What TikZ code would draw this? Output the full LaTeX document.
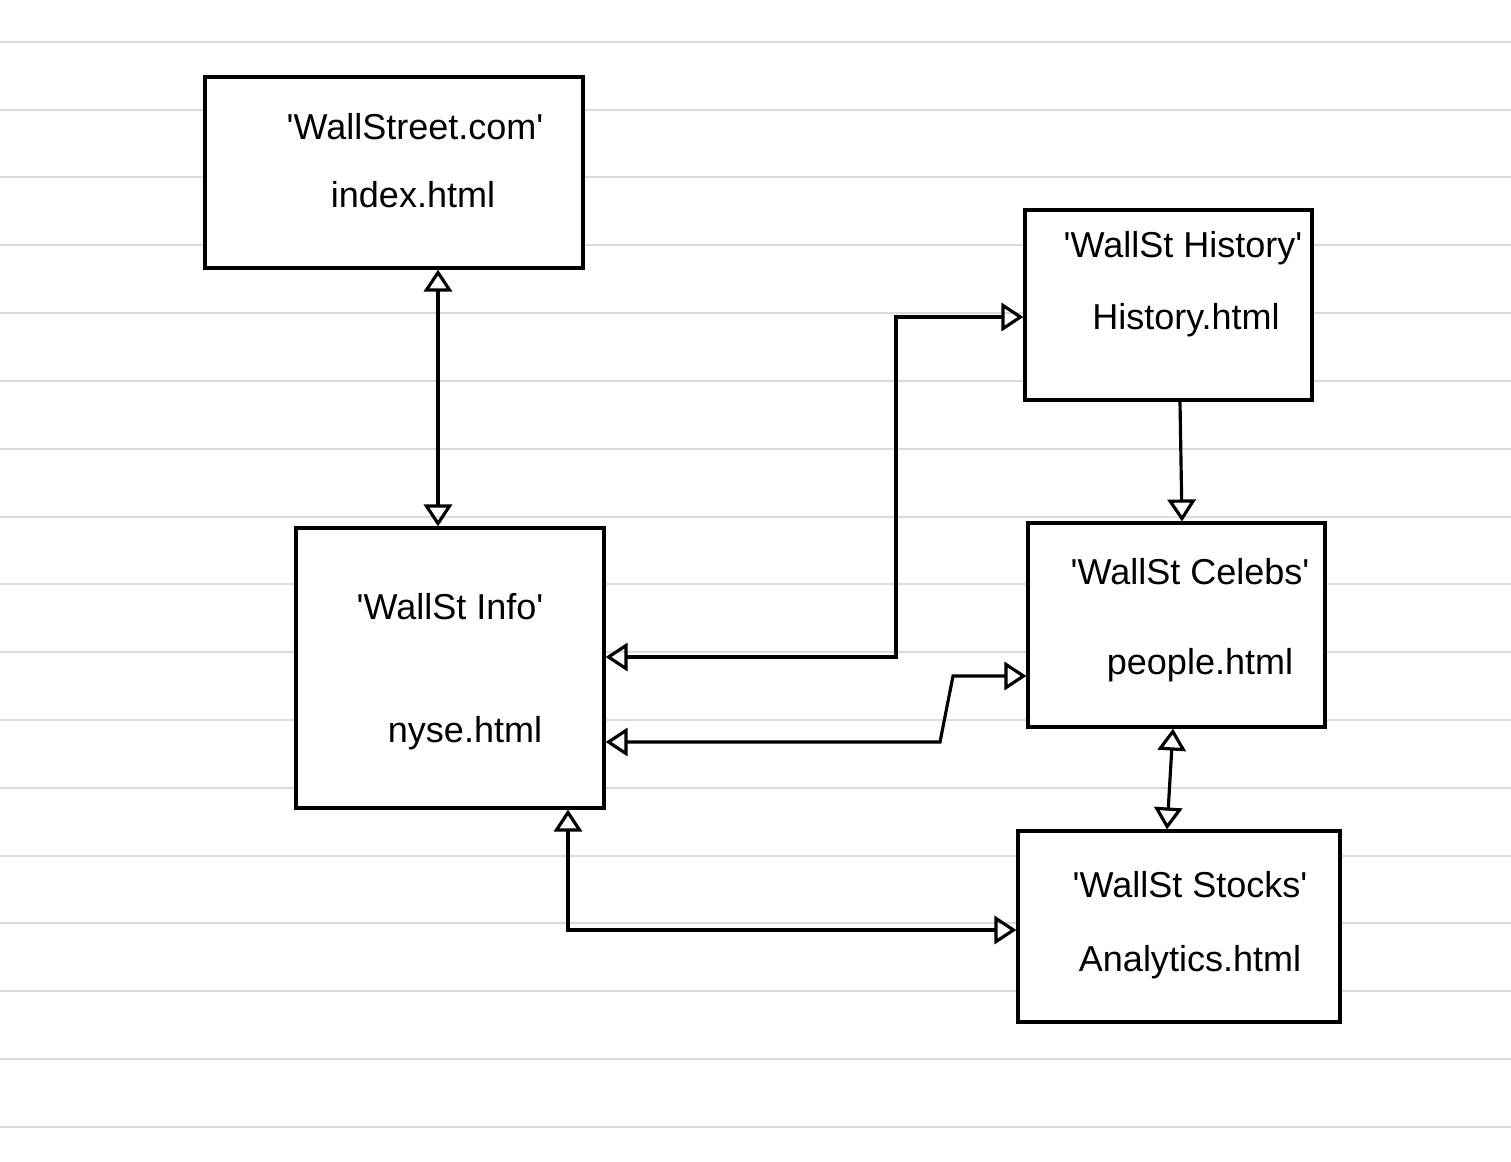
\documentclass[tikz,border=0pt]{standalone}
\usepackage{fontspec}
\setmainfont{Liberation Sans}
\usetikzlibrary{arrows.meta,fit}
\tikzset{otri/.tip={Triangle[open,length=12.5pt,width=16pt,line width=1.8pt]}}
\newcommand{\q}{\textquotesingle}
\begin{document}
\begin{tikzpicture}[x=0.02cm,y=-0.02cm,
  box/.style={draw=black,line width=1.8pt,inner sep=0pt},
  lbl/.style={font=\fontsize{20.5}{24}\selectfont,inner sep=0pt},
  rule/.style={draw=black!14,line width=1.2pt},
  conn/.style={draw=black,line width=1.8pt,line join=miter}
]
\fill[white] (0,0) rectangle (1511,1161);
\useasboundingbox (0,0) rectangle (1511,1161);
\foreach \yy in {42,110,177,245,313,381,449,517,584,652,720,788,856,923,991,1059,1127}
  \draw[rule] (0,\yy) -- (1511,\yy);
% boxes
\path (205,77) coordinate (a1) (583,268) coordinate (a2)
      (1025,210) coordinate (b1) (1312,400) coordinate (b2)
      (296,528) coordinate (c1) (604,808) coordinate (c2)
      (1028,523) coordinate (d1) (1325,727) coordinate (d2)
      (1018,831) coordinate (e1) (1340,1022) coordinate (e2);
\node[box,fill=white,fit=(a1)(a2)] (A) {};
\node[box,fill=white,fit=(b1)(b2)] (B) {};
\node[box,fill=white,fit=(c1)(c2)] (C) {};
\node[box,fill=white,fit=(d1)(d2)] (D) {};
\node[box,fill=white,fit=(e1)(e2)] (E) {};
% labels
\node[lbl] (A1) at (415,127) {\q WallStreet.com\q};
\node[lbl] (A2) at (413,195) {index.html};
\node[lbl] (B1) at (1183,248) {\q WallSt History\q};
\node[lbl] (B2) at (1186,320) {History.html};
\node[lbl] (C1) at (450,607) {\q WallSt Info\q};
\node[lbl] (C2) at (465,733) {nyse.html};
\node[lbl] (D1) at (1190,572) {\q WallSt Celebs\q};
\node[lbl] (D2) at (1200,665) {people.html};
\node[lbl] (E1) at (1190,885) {\q WallSt Stocks\q};
\node[lbl] (E2) at (1190,962) {Analytics.html};
% connectors
\draw[conn,otri-otri] (A.south -| 438,0) -- (C.north -| 438,0);
\draw[conn,otri-otri] (C.east |- 0,657) -- (896,657) -- (896,317) -- (B.west |- 0,317);
\draw[conn,otri-otri] (C.east |- 0,742) -- (940,742) -- (953,676) -- (D.west |- 0,676);
\draw[conn,-otri] (B.south -| 1180,0) -- (D.north -| 1182,0);
\draw[conn,otri-otri] (D.south -| 1173,0) -- (E.north -| 1167,0);
\draw[conn,otri-otri] (C.south -| 568,0) -- (568,930) -- (E.west |- 0,930);
\end{tikzpicture}
\end{document}
